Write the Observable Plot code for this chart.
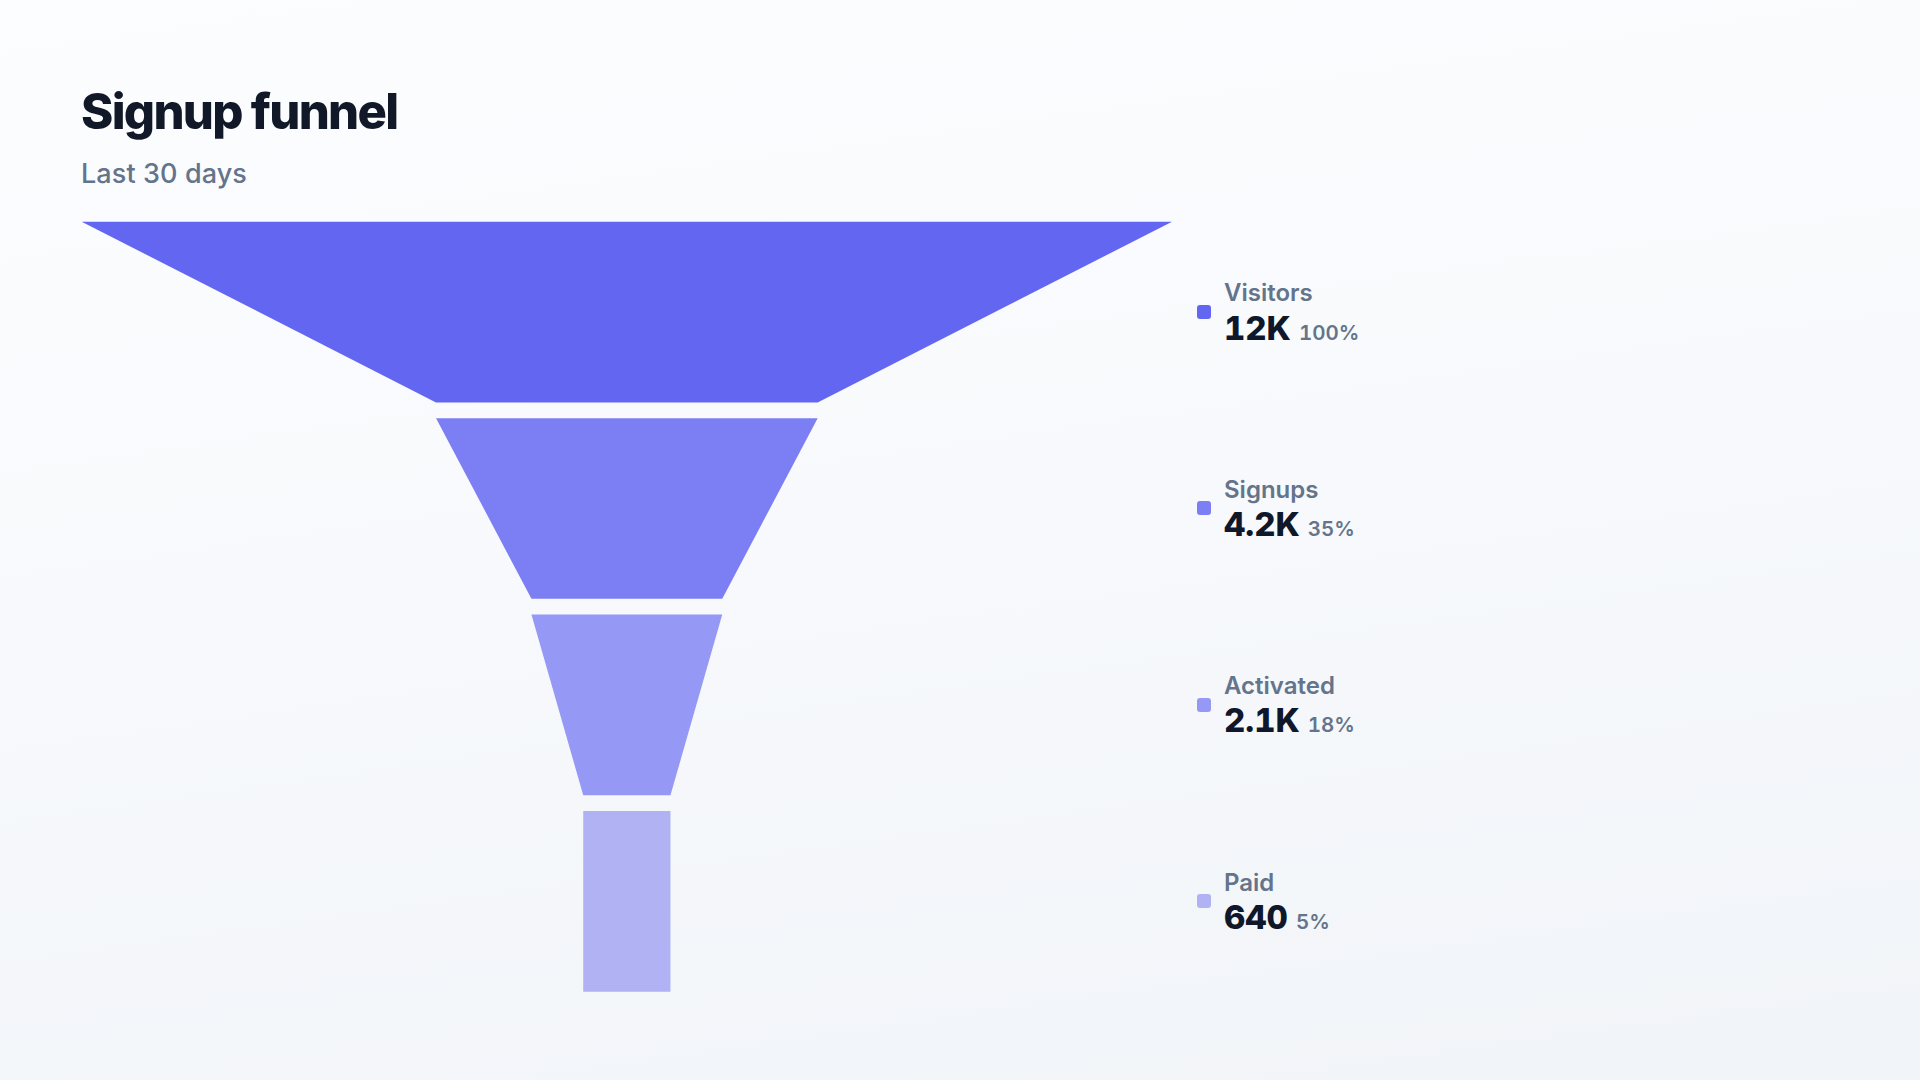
<!DOCTYPE html>
<html>
<head>
<meta charset="utf-8">
<script src="https://cdn.jsdelivr.net/npm/d3@7"></script>
<script src="https://cdn.jsdelivr.net/npm/@observablehq/plot@0.6"></script>
<style>
  html, body { margin: 0; padding: 0; }
  body { width: 1920px; height: 1080px; overflow: hidden; font-family: Inter, "Noto Sans", sans-serif; }
  #page { position: relative; width: 1920px; height: 1080px; background: linear-gradient(172deg, #fcfdff 0%, #f7f9fc 50%, #f1f4f8 100%); }
  .abs { position: absolute; white-space: nowrap; line-height: 1; }
  #title { color: #111827; font-weight: 800; font-size: 49px; letter-spacing: -1.7px; }
  #subtitle { color: #64748b; font-weight: 500; font-size: 27px; letter-spacing: 0.1px; }
  #chart { position: absolute; left: 0; top: 0; }
  .sq { position: absolute; width: 14px; height: 14px; border-radius: 3px; }
  .lab { color: #64748b; font-weight: 600; font-size: 24px; }
  .val { color: #0f172a; font-weight: 800; font-size: 33px; font-variant-numeric: tabular-nums; }
  .pct { color: #64748b; font-weight: 600; font-size: 20.5px; margin-left: 8px; font-variant-numeric: tabular-nums; }
</style>
</head>
<body>
<div id="page">
  <div id="title" class="abs">Signup funnel</div>
  <div id="subtitle" class="abs">Last 30 days</div>
  <div id="chart"></div>
  <div id="legend"></div>
</div>
<script>
// ---- data ----
const stages = ["Visitors", "Signups", "Activated", "Paid"];
const counts = [12000, 4200, 2100, 640];
const valueLabels = ["12K", "4.2K", "2.1K", "640"];
const percentLabels = ["100%", "35%", "18%", "5%"];
const colors = ["#6366f1", "#7c7ff3", "#9598f4", "#b0b2f3"];

// ---- layout parameters ----
const band = 0.92;      // share of each step filled by a segment
const minShare = 0.08;  // minimum displayed width relative to the widest stage
const maxCount = d3.max(counts);
const shown = counts.map(c => Math.max(c, maxCount * minShare));

const rows = stages.flatMap((s, i) => {
  const top = shown[i];
  const bot = i < stages.length - 1 ? shown[i + 1] : shown[i];
  return [
    {stage: s, y: i, half: top / 2},
    {stage: s, y: i + band, half: bot / 2}
  ];
});

const chart = Plot.plot({
  width: 1920,
  height: 1080,
  marginTop: 221.7,
  marginBottom: 88.3,
  marginLeft: 81.7,
  marginRight: 748,
  style: {background: "transparent", overflow: "visible"},
  x: {domain: [-maxCount / 2, maxCount / 2], axis: null},
  y: {domain: [0, stages.length - 1 + band], reverse: true, axis: null},
  color: {domain: stages, range: colors},
  marks: [
    Plot.areaX(rows, {y: "y", x1: d => -d.half, x2: d => d.half, z: "stage", fill: "stage"})
  ]
});
document.getElementById("chart").appendChild(chart);

const yScale = chart.scale("y");
const xScale = chart.scale("x");

function place(el, left, baseline, fontSize) {
  el.style.left = left + "px";
  el.style.top = (baseline - 0.864 * fontSize) + "px";
}
place(document.getElementById("title"), 81, 129, 49);
place(document.getElementById("subtitle"), 81, 183.3, 27);

// ---- legend, aligned with segment centers ----
const legend = document.getElementById("legend");
const frameRight = xScale.apply(maxCount / 2);
stages.forEach((s, i) => {
  const cy = yScale.apply(i + band / 2);
  const sq = document.createElement("div");
  sq.className = "sq";
  sq.style.background = colors[i];
  sq.style.left = (frameRight + 25) + "px";
  sq.style.top = (cy - 7) + "px";
  legend.appendChild(sq);

  const lab = document.createElement("div");
  lab.className = "abs lab";
  lab.textContent = s;
  place(lab, frameRight + 52, cy - 10, 24);
  legend.appendChild(lab);

  const val = document.createElement("div");
  val.className = "abs val";
  const v = document.createElement("span");
  v.textContent = valueLabels[i];
  const p = document.createElement("span");
  p.className = "pct";
  p.textContent = percentLabels[i];
  val.appendChild(v);
  val.appendChild(p);
  place(val, frameRight + 52, cy + 28, 33);
  legend.appendChild(val);
});
</script>
</body>
</html>
